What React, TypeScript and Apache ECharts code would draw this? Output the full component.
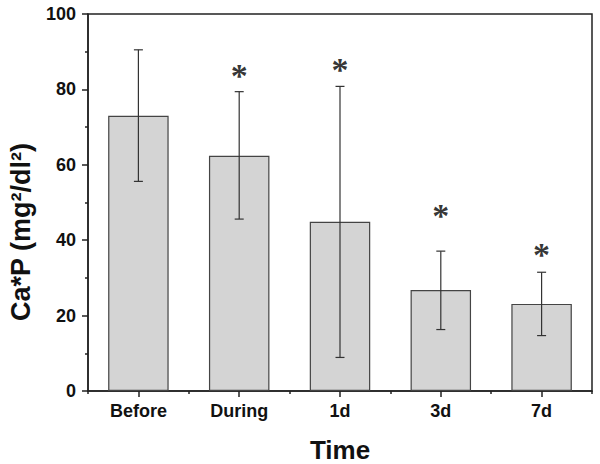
import React, { useEffect, useRef } from "react";
import * as echarts from "echarts";

const categories = ["Before", "During", "1d", "3d", "7d"];
const means = [73.0, 62.4, 44.9, 26.8, 23.1];
const errLow = [55.6, 45.6, 8.9, 16.3, 14.7];
const errHigh = [90.5, 79.4, 80.8, 37.1, 31.5];
const starCats = [1, 2, 3, 4];
const starValues = [85.0, 86.5, 48.0, 37.5];
const yTicks = [0, 20, 40, 60, 80, 100];
const yTitle = "Ca*P (mg²/dl²)";
const xTitle = "Time";

export default function App() {
  const ref = useRef<HTMLDivElement>(null);
  useEffect(() => {
    const chart = echarts.init(ref.current!, null, { renderer: "svg" });
    const font = "Liberation Sans, Arial, sans-serif";
    const errData = categories.map((_, i) => [i, errLow[i], errHigh[i]]);
    const starData = starCats.map((c, i) => [c, starValues[i]]);
    chart.setOption({
      animation: false,
      backgroundColor: "#ffffff",
      grid: {
        left: 88,
        right: 8,
        top: 14,
        bottom: 73,
        containLabel: false,
        outerBoundsMode: "none",
        show: true,
        borderColor: "#222",
        borderWidth: 1.5,
        backgroundColor: "transparent",
      },
      graphic: [
        {
          type: "text",
          x: 21,
          y: 232,
          rotation: Math.PI / 2,
          style: {
            text: yTitle,
            fill: "#111",
            font: "bold 27px Liberation Sans, Arial, sans-serif",
            align: "center",
            verticalAlign: "middle",
          },
        },
      ],
      xAxis: [
        {
          type: "category",
          data: categories,
          axisLine: { show: true, lineStyle: { color: "#222", width: 1.5 } },
          axisTick: { show: true, alignWithLabel: true, length: 6, lineStyle: { color: "#222", width: 1.5 } },
          axisLabel: {
            color: "#111",
            fontFamily: font,
            fontWeight: "bold",
            fontSize: 18,
            margin: 11,
          },
          name: xTitle,
          nameLocation: "middle",
          nameGap: 46,
          nameTextStyle: { color: "#111", fontFamily: font, fontWeight: "bold", fontSize: 26 },
          splitLine: { show: false },
        },
        {
          type: "category",
          data: categories,
          position: "bottom",
          axisLine: { show: false },
          axisTick: { show: true, alignWithLabel: false, length: 3, lineStyle: { color: "#222", width: 1.5 } },
          axisLabel: { show: false },
          splitLine: { show: false },
        },
      ],
      yAxis: {
        type: "value",
        min: 0,
        max: 100,
        interval: 20,
        axisLine: { show: true, lineStyle: { color: "#222", width: 1.5 } },
        axisTick: { show: true, length: 6, lineStyle: { color: "#222", width: 1.5 } },
        minorTick: { show: true, splitNumber: 2, length: 3, lineStyle: { color: "#222", width: 1.5 } },
        splitLine: { show: false },
        axisLabel: {
          color: "#111",
          fontFamily: font,
          fontWeight: "bold",
          fontSize: 18,
          margin: 12,
          formatter: (v: number) => (yTicks.includes(v) ? String(v) : ""),
        },
      },
      series: [
        {
          type: "bar",
          data: means,
          barWidth: "60%",
          itemStyle: { color: "#d4d4d4", borderColor: "#444", borderWidth: 1.2 },
          z: 2,
        },
        {
          type: "custom",
          data: errData,
          encode: { x: 0, y: [1, 2] },
          z: 3,
          renderItem: (params: any, api: any) => {
            const x = api.value(0);
            const lo = api.coord([x, api.value(1)]);
            const hi = api.coord([x, api.value(2)]);
            const cap = 4.5;
            const style = { stroke: "#333", lineWidth: 1.2 };
            return {
              type: "group",
              children: [
                { type: "line", shape: { x1: lo[0], y1: lo[1], x2: hi[0], y2: hi[1] }, style },
                { type: "line", shape: { x1: lo[0] - cap, y1: lo[1], x2: lo[0] + cap, y2: lo[1] }, style },
                { type: "line", shape: { x1: hi[0] - cap, y1: hi[1], x2: hi[0] + cap, y2: hi[1] }, style },
              ],
            };
          },
        },
        {
          type: "scatter",
          data: starData,
          symbolSize: 0,
          z: 4,
          label: {
            show: true,
            position: "inside",
            formatter: "*",
            fontFamily: "Liberation Serif, Times New Roman, serif",
            fontWeight: "bold",
            fontSize: 34,
            color: "#000",
            offset: [0, 5],
          },
        },
      ],
    });
    return () => chart.dispose();
  }, []);
  return (
    <div
      ref={ref}
      style={{ position: "fixed", left: 0, top: 0, width: 600, height: 464, background: "#fff" }}
    />
  );
}
